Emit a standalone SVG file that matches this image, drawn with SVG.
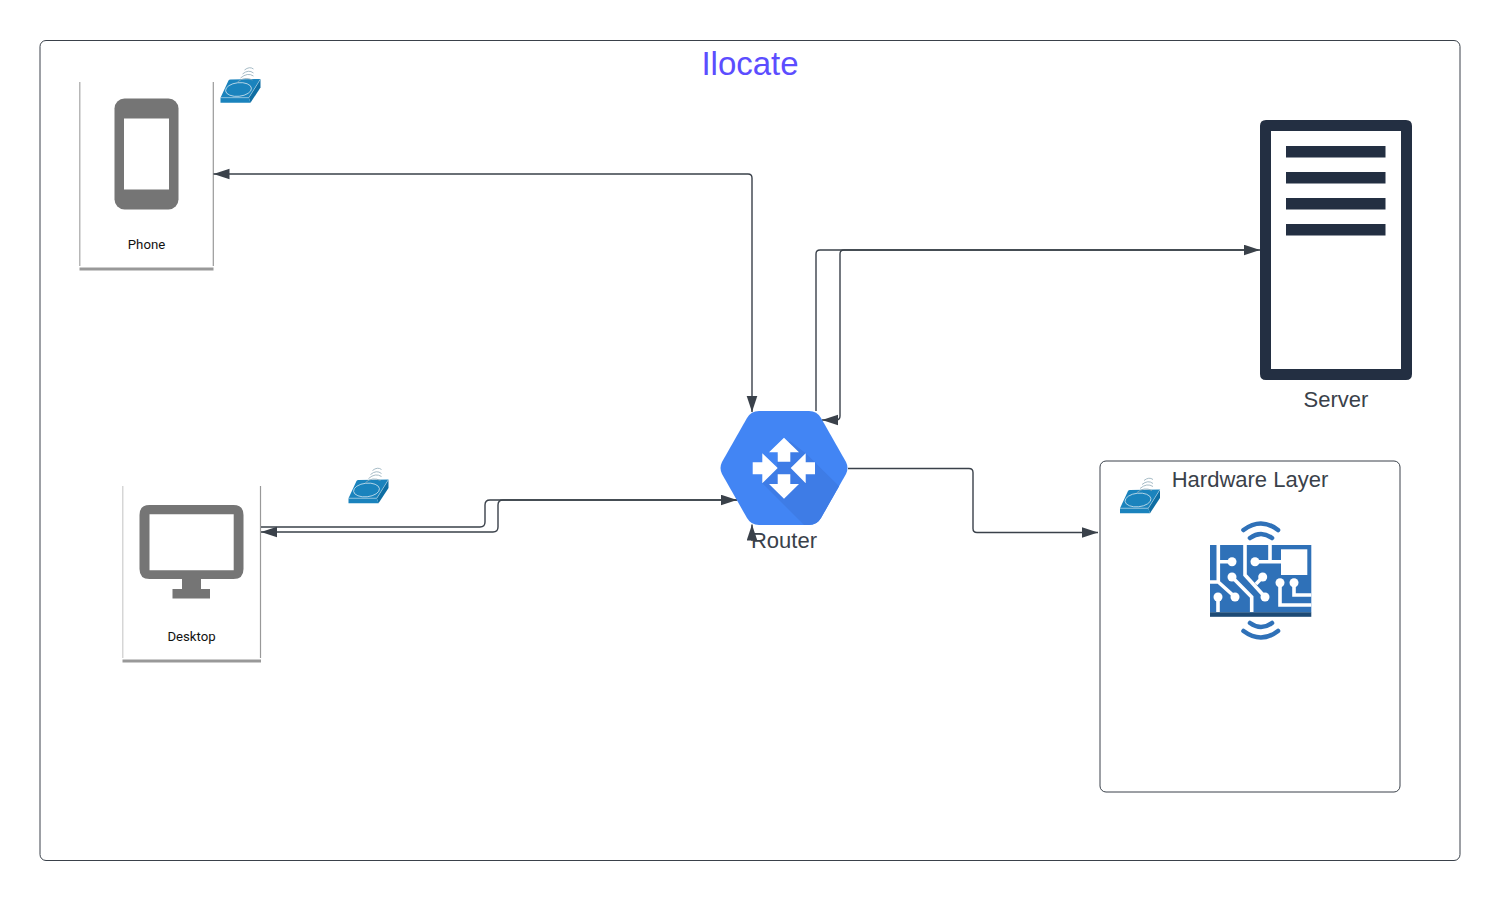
<svg xmlns="http://www.w3.org/2000/svg" xmlns:xlink="http://www.w3.org/1999/xlink" width="1500" height="900" viewBox="0 0 1500 900">
<style>
text{font-family:"Liberation Sans",Arial,sans-serif;fill:#3a414a;text-anchor:middle}
.small{font-family:Roboto,"Liberation Sans",sans-serif;font-size:13.2px;fill:#111}
.big{font-size:22px}
.conn{fill:none;stroke:#3a414a;stroke-width:1.4}
.grey{fill:#757575}
.navy{fill:#232f42}
.trace{fill:none;stroke:#fff;stroke-width:3.6}
.dot{fill:#fff}
.wave{fill:none;stroke:#2f71b8;stroke-width:4.6;stroke-linecap:round}
.cardside{fill:none;stroke:#a5a5a5;stroke-width:1.2}
.cardbase{fill:none;stroke:#999;stroke-width:3}
</style>
<defs>
<marker id="ah" markerUnits="userSpaceOnUse" markerWidth="17" markerHeight="12" refX="16" refY="5.5" orient="auto-start-reverse">
<path d="M0 0.2L16 5.5L0 10.800Z" fill="#3a414a"/>
</marker>
<g id="sensor">
<path d="M0 30.700L8 13.500Q8.500 12.500 10 12.500L40 12L28.300 30.700Z" fill="#1a83bd"/>
<path d="M28.300 30.700L40 12V20.500L30 35.700Z" fill="#0f6ea3"/>
<path d="M0 30.700H28.300L30 35.700H0Z" fill="#1a83bd"/>
<path d="M0 30.700H28.300L40 12" fill="none" stroke="#cfe4f0" stroke-width=".5"/>
<ellipse cx="18" cy="22.500" rx="13" ry="6.800" transform="rotate(-6 18 22.500)" fill="none" stroke="#cfe4f0" stroke-width=".8"/>
<path d="M17 15Q24 9 32 13M20 11Q27 5 33 9M22 7Q28 2 33 6M24 3Q29 -1 33 2" fill="none" stroke="#8fa9b8" stroke-width=".8"/>
</g>
<clipPath id="hexclip"><path d="M722 462L747 418Q751 411 759 411H809Q817 411 821 418L846 462Q849 468 846 474L821 518Q817 525 809 525H759Q751 525 747 518L722 474Q719 468 722 462Z"/></clipPath>
</defs>
<rect width="1500" height="900" fill="#fff"/>
<g id="frame">
<rect x="40" y="40.500" width="1420" height="820" rx="6" fill="#fff" stroke="#3a414a" stroke-width="1"/>
<text x="750" y="74.500" font-size="33" style="fill:#5c4dff">Ilocate</text>
</g>
<g id="node-phone">
<path class="cardside" d="M79.800 82V266"/>
<path class="cardside" d="M213.300 82V266" style="stroke:#999"/>
<path class="cardbase" d="M79.500 269H213.500"/>
<rect class="grey" x="114.500" y="98.500" width="64" height="111" rx="10"/>
<rect x="124" y="118.500" width="45" height="71" fill="#fff"/>
<text class="small" x="146.500" y="249">Phone</text>
</g>
<use id="sensor-phone" href="#sensor" xlink:href="#sensor" x="220.500" y="67"/>
<g id="node-desktop">
<path class="cardside" d="M122.800 486V658" style="stroke:#ccc"/>
<path class="cardside" d="M260.500 486V658" style="stroke:#999"/>
<path class="cardbase" d="M122.500 661H261"/>
<path class="grey" fill-rule="evenodd" d="M149.500 505H233.500Q243.500 505 243.500 515V569Q243.500 579 233.500 579H201V589H210V598.500H172.500V589H182V579H149.500Q139.500 579 139.500 569V515Q139.500 505 149.500 505ZM149.500 514.300V570.300H233.700V514.300Z"/>
<text class="small" x="191.500" y="641">Desktop</text>
</g>
<use id="sensor-desktop" href="#sensor" xlink:href="#sensor" x="348.500" y="467.500"/>
<g id="node-server">
<path class="navy" fill-rule="evenodd" d="M1266 120H1406Q1412 120 1412 126V374Q1412 380 1406 380H1266Q1260 380 1260 374V126Q1260 120 1266 120ZM1271 131V369H1401V131Z"/>
<rect class="navy" x="1286" y="146" width="99.500" height="11.500"/>
<rect class="navy" x="1286" y="172" width="99.500" height="11.500"/>
<rect class="navy" x="1286" y="198" width="99.500" height="11.500"/>
<rect class="navy" x="1286" y="224" width="99.500" height="11.500"/>
<text class="big" x="1336" y="407">Server</text>
</g>
<g id="node-hardware">
<rect x="1100" y="461" width="300" height="331" rx="6" fill="#fff" stroke="#3a414a" stroke-width="1"/>
<text class="big" x="1250" y="486.500">Hardware Layer</text>
<use id="sensor-hardware" href="#sensor" xlink:href="#sensor" x="1120" y="477.500"/>
<path class="wave" d="M1243.500 530Q1261 517 1278 530M1250 538Q1261 530 1272 538M1250 623Q1261 631 1272 623M1243.500 631Q1261 644 1278 631"/>
<rect x="1210" y="545" width="101.300" height="67.500" fill="#2f71b8"/>
<rect x="1210" y="612.300" width="101.300" height="4.500" fill="#1d4a75"/>
<rect x="1281" y="549.300" width="26.300" height="25.700" fill="#fff"/>
<path class="trace" d="M1218.300 545V582L1235 597M1218.300 561.700H1232M1210 582H1218.300M1218 597V612M1232 577L1251.700 597V612M1245 545V575L1265 597M1262.700 577L1256 584M1255 561.700H1281M1270 545V561.700M1280 582.700V605H1311.300M1294 582.700V595H1311.300"/>
<g class="dot">
<circle cx="1232" cy="561.700" r="4.500"/><circle cx="1235" cy="597" r="4.500"/><circle cx="1218" cy="597" r="4.500"/><circle cx="1232" cy="577" r="4.500"/><circle cx="1265" cy="597" r="4.500"/><circle cx="1262.700" cy="577" r="4.500"/><circle cx="1255" cy="561.700" r="4.500"/><circle cx="1280" cy="582.700" r="4.500"/><circle cx="1294" cy="582.700" r="4.500"/>
</g>
</g>
<g id="connectors">
<path class="conn" marker-start="url(#ah)" marker-end="url(#ah)" d="M752 412V178Q752 174 748 174H213.500"/>
<path class="conn" marker-end="url(#ah)" d="M816 411V254Q816 250 820 250H1260"/>
<path class="conn" marker-end="url(#ah)" d="M1258 250H844Q840 250 840 254V416Q840 420 836 420H822"/>
<path class="conn" marker-end="url(#ah)" d="M261 527H480Q485 527 485 522V505Q485 500 490 500H737"/>
<path class="conn" marker-end="url(#ah)" d="M737 500H503Q498 500 498 505V527Q498 532 493 532H261"/>
<path class="conn" marker-end="url(#ah)" d="M752 541V524.500"/>
<path class="conn" marker-end="url(#ah)" d="M848 468.500H969Q973 468.500 973 472.500V528.500Q973 532.500 977 532.500H1098"/>
</g>
<g id="node-router">
<path fill="#4285f4" d="M722 462L747 418Q751 411 759 411H809Q817 411 821 418L846 462Q849 468 846 474L821 518Q817 525 809 525H759Q751 525 747 518L722 474Q719 468 722 462Z"/>
<path clip-path="url(#hexclip)" fill="#3e7ce6" d="M762 483L805 526H830L850 497L805.700 453.300L790 441L777 455L777 468Z"/>
<path fill="#fff" d="M784 437.700L799 452.300H790.300V461.700H777.700V452.300H769ZM784 498.700L799 484H790.300V474.300H777.700V484H769ZM777.700 468L762.300 453.300V462.300H752.700V474.300H762.300V483.300ZM790.700 468L805.700 453.300V462.300H815V474.300H805.700V483.300Z"/>
<text class="big" x="784" y="548">Router</text>
</g>
</svg>
